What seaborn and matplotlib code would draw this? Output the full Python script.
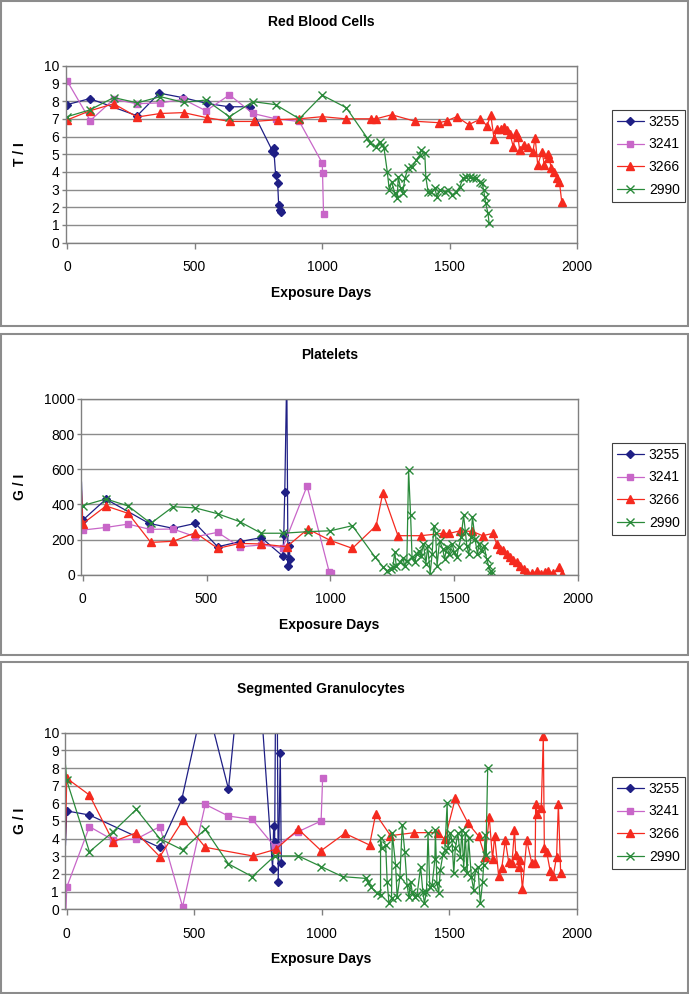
import numpy as np
import pandas as pd
import seaborn as sns
import matplotlib.pyplot as plt
from matplotlib.patches import Rectangle

W, H = 689, 994

patients = ["3255", "3241", "3266", "2990"]
colors = ["#1f1f85", "#c866c8", "#f52a1f", "#2a8a3a"]
markers = ["D", "s", "^", "x"]
msizes = [4.3, 4.5, 6, 5.5]

# ---- Red Blood Cells (T/l)
rbc_3255_x = [0, 89, 275, 362, 456, 549, 634, 719, 805, 810, 812, 818, 826, 830, 836, 840]
rbc_3255_y = [7.8, 8.14, 7.17, 8.45, 8.19, 7.87, 7.68, 7.68, 5.2, 5.33, 5.05, 3.84, 3.39, 2.13, 1.85, 1.72]
rbc_3241_x = [0, 91, 183, 275, 366, 456, 545, 637, 729, 818, 911, 1001, 1002, 1006]
rbc_3241_y = [9.15, 6.9, 8.1, 7.85, 7.9, 8.1, 7.45, 8.35, 7.3, 7.0, 6.85, 4.5, 3.95, 1.6]
rbc_3266_x = [0, 89, 183, 275, 366, 457, 549, 640, 732, 827, 911, 1001, 1093, 1191, 1212, 1273,
              1365, 1459, 1489, 1528, 1575, 1620, 1647, 1662, 1675, 1685, 1700, 1713, 1724, 1737,
              1750, 1759, 1768, 1775, 1794, 1807, 1827, 1836, 1846, 1863, 1872, 1885, 1892, 1898,
              1911, 1922, 1931, 1940]
rbc_3266_y = [6.93, 7.45, 7.85, 7.1, 7.3, 7.35, 7.06, 6.85, 6.85, 6.95, 7.0, 7.12, 7.0, 7.0, 7.0, 7.23,
              6.86, 6.78, 6.88, 7.12, 6.67, 6.97, 6.62, 7.2, 5.84, 6.4, 6.4, 6.53, 6.37, 6.14,
              5.43, 6.2, 6.0, 5.25, 5.53, 5.43, 5.15, 5.94, 4.38, 5.15, 4.4, 5.0, 4.8, 4.2,
              4.0, 3.66, 3.45, 2.32]
rbc_2990_x = [0, 89, 183, 275, 366, 457, 545, 637, 729, 818, 911, 1001, 1095, 1178, 1188, 1210,
              1227, 1234, 1243, 1256, 1264, 1273, 1286, 1295, 1299, 1308, 1316, 1325, 1337, 1354,
              1370, 1383, 1390, 1403, 1407, 1416, 1429, 1442, 1451, 1464, 1481, 1494, 1511, 1527,
              1540, 1553, 1566, 1579, 1592, 1605, 1618, 1628, 1634, 1638, 1642, 1651, 1655]
rbc_2990_y = [7.12, 7.5, 8.2, 7.9, 8.25, 7.93, 8.06, 7.12, 7.97, 7.8, 7.0, 8.33, 7.63, 5.9, 5.66, 5.43,
              5.7, 5.5, 5.36, 4.0, 2.97, 3.44, 2.78, 2.5, 3.73, 3.07, 2.78, 3.63, 4.2, 4.3,
              4.67, 4.95, 5.23, 5.05, 3.73, 2.88, 2.88, 3.07, 2.6, 2.97, 2.88, 2.97, 2.69, 2.88,
              3.16, 3.63, 3.72, 3.72, 3.63, 3.63, 3.44, 3.35, 2.97, 2.6, 2.22, 1.66, 1.13]

# ---- Platelets (G/l)
plt_3255_x = [-5, 0, 94, 268, 365, 455, 545, 634, 721, 808, 812, 816, 824, 829, 833, 838]
plt_3255_y = [530, 310, 430, 292, 264, 292, 159, 188, 211, 106, 226, 472, 1150, 52, 165, 88]
plt_3241_x = [0, 94, 184, 271, 365, 455, 545, 634, 721, 808, 906, 996, 1003]
plt_3241_y = [254, 269, 288, 258, 260, 216, 241, 159, 169, 154, 505, 13, 8]
plt_3266_x = [-5, 0, 94, 184, 275, 365, 455, 545, 634, 721, 824, 909, 1000, 1089, 1185, 1212,
              1273, 1365, 1454, 1481, 1524, 1574, 1615, 1656, 1672, 1685, 1699, 1712, 1726, 1739,
              1753, 1766, 1780, 1793, 1813, 1833, 1849, 1867, 1880, 1900, 1922, 1937]
plt_3266_y = [480, 290, 391, 349, 184, 190, 239, 150, 178, 175, 159, 260, 195, 150, 279, 467,
              222, 222, 235, 235, 250, 246, 222, 235, 175, 146, 140, 118, 99, 86,
              70, 51, 32, 13, 8, 19, 4, 13, 23, 8, 42, 4]
plt_2990_x = [0, 94, 184, 275, 365, 455, 545, 634, 721, 808, 909, 1000, 1089, 1179, 1212, 1229,
              1243, 1253, 1260, 1266, 1280, 1293, 1300, 1309, 1316, 1324, 1330, 1340, 1349, 1357,
              1366, 1376, 1386, 1393, 1403, 1411, 1418, 1425, 1431, 1441, 1454, 1461, 1470, 1481,
              1491, 1501, 1510, 1518, 1528, 1538, 1545, 1551, 1559, 1568, 1574, 1584, 1594, 1601,
              1612, 1621, 1631, 1639, 1647, 1650]
plt_2990_y = [393, 431, 391, 292, 387, 380, 347, 302, 236, 236, 245, 250, 279, 103, 46, 23,
              34, 46, 131, 51, 70, 95, 51, 80, 595, 338, 99, 70, 118, 137,
              108, 175, 63, 165, 6, 118, 279, 235, 51, 194, 146, 89, 156, 118,
              175, 127, 99, 156, 213, 338, 249, 165, 118, 213, 329, 204, 118, 175,
              137, 165, 89, 51, 19, 4]

# ---- Segmented Granulocytes (G/l)
gran_3255_x = [-5, 0, 89, 365, 451, 541, 634, 722, 807, 811, 815, 822, 829, 837, 841]
gran_3255_y = [3.6, 5.57, 5.34, 3.5, 6.23, 12.1, 6.8, 19.7, 2.28, 4.72, 3.79, 20.0, 1.57, 8.83, 2.64]
gran_3241_x = [-3, 0, 89, 182, 273, 365, 454, 543, 634, 727, 815, 908, 997, 1003]
gran_3241_y = [0.0, 1.25, 4.68, 3.92, 3.98, 4.68, 0.15, 5.94, 5.28, 5.09, 3.55, 4.4, 5.0, 7.42]
gran_3266_x = [-5, 0, 89, 182, 273, 365, 456, 543, 729, 820, 908, 997, 1090, 1187, 1211, 1269,
               1363, 1454, 1482, 1523, 1573, 1614, 1640, 1656, 1669, 1677, 1693, 1705, 1719, 1732,
               1745, 1755, 1760, 1771, 1777, 1786, 1803, 1823, 1836, 1838, 1845, 1860, 1868, 1872,
               1881, 1895, 1907, 1920, 1927, 1936]
gran_3266_y = [4.0, 7.42, 6.47, 3.83, 4.34, 2.98, 5.06, 3.51, 3.02, 3.4, 4.53, 3.32, 4.3, 3.64, 5.4, 4.17,
               4.34, 4.34, 3.96, 6.28, 4.87, 4.15, 2.98, 5.24, 2.83, 4.15, 1.89, 2.32, 3.92, 2.7,
               2.6, 4.49, 3.07, 2.41, 2.79, 1.15, 3.92, 2.6, 2.6, 5.94, 5.4, 5.75, 9.81, 3.49,
               3.26, 2.17, 1.91, 2.98, 5.94, 2.04]
gran_2990_x = [-5, 0, 89, 182, 273, 365, 454, 543, 634, 727, 815, 908, 997, 1081, 1172, 1182,
               1191, 1217, 1230, 1230, 1237, 1250, 1256, 1263, 1273, 1276, 1289, 1295, 1306, 1315,
               1325, 1334, 1341, 1348, 1354, 1364, 1373, 1387, 1396, 1402, 1410, 1416, 1423, 1432,
               1443, 1445, 1451, 1458, 1464, 1474, 1482, 1491, 1494, 1504, 1510, 1517, 1523, 1533,
               1543, 1549, 1556, 1562, 1569, 1575, 1586, 1595, 1602, 1612, 1621, 1630, 1634, 1640,
               1643, 1650]
gran_2990_y = [8.2, 7.3, 3.26, 4.4, 5.66, 4.0, 3.36, 4.53, 2.57, 1.85, 3.02, 3.02, 2.42, 1.85, 1.75, 1.56,
               1.28, 0.9, 0.8, 4.02, 3.45, 3.64, 1.56, 0.34, 0.62, 4.3, 2.5, 0.7, 1.85, 4.77,
               3.26, 1.37, 0.7, 1.56, 1.0, 0.7, 0.8, 2.4, 0.98, 0.34, 1.0, 4.3, 1.28, 1.37,
               2.83, 4.49, 1.47, 0.94, 2.2, 3.07, 3.36, 6.0, 3.45, 4.3, 3.92, 2.04, 3.45, 4.3,
               2.98, 4.49, 2.32, 4.3, 2.04, 4.02, 1.85, 1.1, 2.23, 2.41, 0.34, 1.56, 2.51, 4.2,
               3.07, 8.02]

x_ticks = [0, 500, 1000, 1500, 2000]


def rect(l, t, r, b):
    # pixel box (top-left origin) -> figure fraction
    return [l / W, 1 - b / H, (r - l) / W, (b - t) / H]


sns.set_theme(style="white")
plt.rcParams["font.family"] = ["Liberation Sans", "DejaVu Sans"]
plt.rcParams["text.color"] = "black"
plt.rcParams["xtick.color"] = "#808080"
plt.rcParams["ytick.color"] = "#808080"
plt.rcParams["xtick.labelcolor"] = "black"
plt.rcParams["ytick.labelcolor"] = "black"

fig = plt.figure(figsize=(W / 100, H / 100), dpi=100)

panels = [
    dict(title="Red Blood Cells", ylabel="T / I", frame=(1, 1, 688, 326),
         box=(65.5, 65.7, 577, 242.7), ymax=10, yticks=list(range(0, 11)),
         series=[(rbc_3255_x, rbc_3255_y), (rbc_3241_x, rbc_3241_y),
                 (rbc_3266_x, rbc_3266_y), (rbc_2990_x, rbc_2990_y)],
         leg_top=110),
    dict(title="Platelets", ylabel="G / I", frame=(1, 334, 688, 655),
         box=(81.2, 399, 578, 574.7), ymax=1000, yticks=[0, 200, 400, 600, 800, 1000],
         series=[(plt_3255_x, plt_3255_y), (plt_3241_x, plt_3241_y),
                 (plt_3266_x, plt_3266_y), (plt_2990_x, plt_2990_y)],
         leg_top=443),
    dict(title="Segmented Granulocytes", ylabel="G / I", frame=(1, 662, 688, 993),
         box=(65.2, 732.7, 577, 909.3), ymax=10, yticks=list(range(0, 11)),
         series=[(gran_3255_x, gran_3255_y), (gran_3241_x, gran_3241_y),
                 (gran_3266_x, gran_3266_y), (gran_2990_x, gran_2990_y)],
         leg_top=777),
]

for p in panels:
    fl, ft, fr, fb = p["frame"]
    fig.patches.append(Rectangle((fl / W, 1 - fb / H), (fr - fl) / W, (fb - ft) / H,
                                 transform=fig.transFigure, fill=False,
                                 edgecolor="#8c8c8c", lw=1.5))

    l, t, r, b = p["box"]
    ax = fig.add_axes(rect(l, t, r, b))
    for i, (xs, ys) in enumerate(p["series"]):
        df = pd.DataFrame({"day": xs, "value": ys})
        # readings before day 0 sit outside Excel's plot area: line only, no marker
        first = 1 if xs[0] < 0 else 0
        sns.lineplot(data=df, x="day", y="value", ax=ax, sort=False, estimator=None,
                     color=colors[i], lw=0.9, marker=markers[i], markersize=msizes[i],
                     markeredgecolor=colors[i], markerfacecolor=colors[i],
                     markeredgewidth=1.0, markevery=slice(first, None),
                     label=patients[i])

    ax.set_xlim(-6, 2000)
    ax.set_ylim(0, p["ymax"])
    ax.set_xticks(x_ticks)
    ax.set_yticks(p["yticks"])
    ax.set_xlabel("")
    ax.set_ylabel("")
    ax.grid(axis="y", color="#8c8c8c", lw=1)
    ax.grid(axis="x", visible=False)
    ax.set_axisbelow(True)
    for s in ax.spines.values():
        s.set_color("#808080")
        s.set_linewidth(1)
    ax.tick_params(axis="x", bottom=True, length=4, width=1, pad=8.5, labelsize=10)
    ax.tick_params(axis="y", left=True, length=3, width=1, pad=1.5, labelsize=10)

    cx = (l + r) / 2
    fig.text(cx / W, 1 - (t - 44) / H, p["title"], ha="center", va="center",
             fontsize=10, fontweight="bold")
    fig.text(cx / W, 1 - (b + 50) / H, "Exposure Days", ha="center", va="center",
             fontsize=10, fontweight="bold")
    fig.text(20 / W, 1 - ((t + b) / 2) / H, p["ylabel"], ha="center", va="center",
             rotation=90, fontsize=10, fontweight="bold")

    handles, labels = ax.get_legend_handles_labels()
    leg = ax.legend(handles, labels, loc="upper left",
                    bbox_to_anchor=(612 / W, 1 - p["leg_top"] / H),
                    bbox_transform=fig.transFigure, frameon=True, fancybox=False,
                    edgecolor="#404040", framealpha=1, fontsize=10,
                    handlelength=1.95, handletextpad=0.35, labelspacing=0.62,
                    borderpad=0.35, borderaxespad=0)
    leg.get_frame().set_linewidth(0.8)

fig.savefig("out.png", dpi=100)
